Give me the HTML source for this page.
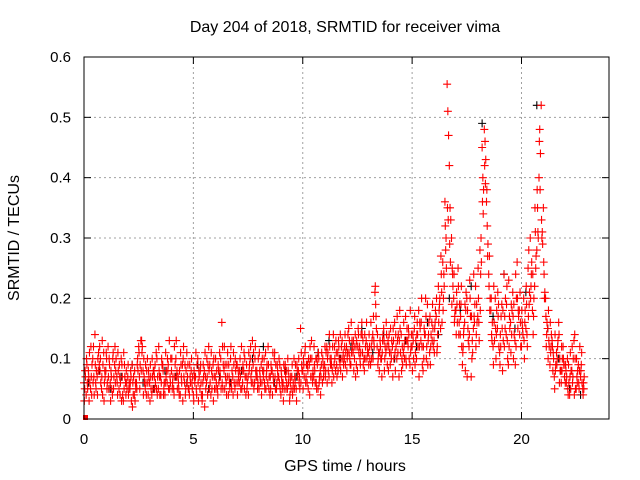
<!DOCTYPE html>
<html><head><meta charset="utf-8"><style>
body{margin:0;background:#fff}
svg{display:block;font-family:"Liberation Sans",sans-serif}
</style></head><body>
<svg id="chart" width="640" height="480">
<rect width="640" height="480" fill="#fff"/>
<text x="345" y="32" font-size="16" text-anchor="middle">Day 204 of 2018, SRMTID for receiver vima</text>
<text x="345" y="471" font-size="16" text-anchor="middle">GPS time / hours</text>
<text transform="translate(19,238) rotate(-90)" font-size="16" text-anchor="middle">SRMTID / TECUs</text>
<g id="grid"></g><g id="ticks"></g><g id="marks"></g>
<rect x="84" y="57" width="525" height="362" fill="none" stroke="#000" stroke-width="1"/>
</svg>
<script>
const xTicks=[0,5,10,15,20];
const yTicks=[0,0.1,0.2,0.3,0.4,0.5,0.6];
const yTickLabels=["0","0.1","0.2","0.3","0.4","0.5","0.6"];
const redStep=0.1;
const redA=[0.06,0.04,0.08,0.05,0.10,0.14,0.07,0.09,0.05,0.11,
0.08,0.12,0.06,0.04,0.09,0.07,0.05,0.10,0.03,0.06,
0.07,0.05,0.09,0.04,0.06,0.12,0.13,0.08,0.05,0.10,
0.06,0.04,0.08,0.11,0.05,0.07,0.09,0.04,0.06,0.13,
0.08,0.05,0.10,0.07,0.04,0.09,0.06,0.11,0.05,0.08,
0.04,0.07,0.10,0.05,0.03,0.08,0.06,0.12,0.04,0.09,
0.07,0.05,0.11,0.16,0.08,0.06,0.04,0.10,0.07,0.05,
0.09,0.06,0.12,0.08,0.04,0.07,0.10,0.13,0.06,0.08,
0.05,0.09,0.07,0.11,0.06,0.04,0.08,0.10,0.05,0.07,
0.04,0.06,0.09,0.05,0.03,0.07,0.10,0.05,0.08,0.15,
0.08,0.11,0.06,0.09,0.13,0.07,0.10,0.05,0.08,0.06,
0.09,0.12,0.07,0.10,0.14,0.08,0.11,0.09,0.13,0.10,
0.12,0.15,0.09,0.11,0.14,0.08,0.12,0.16,0.10,0.13,
0.11,0.09,0.14,0.21,0.12,0.08,0.10,0.15,0.11,0.13,
0.09,0.12,0.16,0.10,0.07,0.14,0.11,0.17,0.13,0.09,
0.12,0.15,0.10,0.18,0.13,0.08,0.14,0.19,0.11,0.16,
0.13,0.17,0.22,0.15,0.26,0.36,0.555,0.42,0.30,0.20,
0.18,0.25,0.14,0.09,0.16,0.20,0.12,0.07,0.15,0.22,
0.17,0.28,0.45,0.48,0.36,0.24,0.18,0.12,0.20,0.15,
0.11,0.19,0.24,0.14,0.09,0.16,0.21,0.13,0.26,0.18,
0.12,0.20,0.15,0.25,0.30,0.18,0.22,0.28,0.40,0.52,
0.35,0.20,0.15,0.09,0.13,0.07,0.11,0.16,0.08,0.12,
0.06,0.10,0.04,0.08,0.13,0.05,0.09,0.07,0.05];
const redB=[0.05,0.09,0.03,0.07,0.12,0.06,0.10,0.08,0.13,0.06,
0.10,0.05,0.08,0.11,0.06,0.04,0.07,0.09,0.05,0.08,
0.04,0.08,0.06,0.03,0.09,0.07,0.13,0.10,0.06,0.04,
0.09,0.07,0.05,0.10,0.08,0.06,0.04,0.11,0.08,0.07,
0.05,0.12,0.07,0.05,0.09,0.10,0.04,0.07,0.09,0.06,
0.08,0.05,0.03,0.09,0.06,0.11,0.07,0.05,0.08,0.10,
0.05,0.09,0.07,0.12,0.05,0.09,0.07,0.06,0.11,0.08,
0.06,0.10,0.08,0.05,0.09,0.11,0.07,0.09,0.12,0.05,
0.08,0.06,0.10,0.07,0.09,0.05,0.11,0.07,0.09,0.06,
0.07,0.09,0.05,0.08,0.06,0.04,0.07,0.09,0.06,0.11,
0.10,0.06,0.08,0.12,0.07,0.09,0.05,0.10,0.07,0.09,
0.07,0.10,0.12,0.06,0.09,0.11,0.13,0.08,0.10,0.14,
0.10,0.13,0.11,0.08,0.12,0.15,0.09,0.11,0.14,0.10,
0.14,0.12,0.17,0.19,0.09,0.13,0.11,0.08,0.14,0.12,
0.11,0.15,0.08,0.13,0.18,0.10,0.12,0.09,0.15,0.11,
0.14,0.09,0.16,0.12,0.20,0.10,0.17,0.13,0.09,0.19,
0.15,0.11,0.18,0.24,0.20,0.28,0.51,0.35,0.25,0.16,
0.21,0.14,0.19,0.12,0.08,0.18,0.23,0.10,0.17,0.14,
0.20,0.24,0.40,0.46,0.32,0.27,0.14,0.22,0.10,0.17,
0.14,0.08,0.17,0.22,0.12,0.19,0.10,0.24,0.15,0.21,
0.16,0.10,0.19,0.28,0.22,0.14,0.31,0.35,0.48,0.30,
0.24,0.12,0.18,0.11,0.08,0.14,0.10,0.06,0.12,0.09,
0.08,0.04,0.11,0.06,0.14,0.07,0.05,0.09,0.06];
const redC=[0.07,0.05,0.06,0.09,0.04,0.08,0.11,0.06,0.09,0.07,
0.06,0.09,0.05,0.07,0.10,0.08,0.06,0.04,0.07,0.05,
0.06,0.03,0.07,0.05,0.08,0.09,0.12,0.06,0.08,0.07,
0.05,0.08,0.06,0.07,0.04,0.09,0.06,0.08,0.05,0.10,
0.07,0.09,0.05,0.08,0.06,0.07,0.08,0.05,0.06,0.07,
0.06,0.09,0.07,0.04,0.07,0.05,0.09,0.06,0.07,0.05,
0.08,0.06,0.05,0.09,0.07,0.11,0.05,0.08,0.06,0.09,
0.07,0.05,0.09,0.07,0.06,0.09,0.08,0.05,0.07,0.10,
0.06,0.08,0.05,0.09,0.07,0.08,0.06,0.09,0.07,0.05,
0.05,0.08,0.06,0.07,0.05,0.06,0.09,0.07,0.05,0.08,
0.07,0.09,0.10,0.07,0.08,0.06,0.09,0.07,0.11,0.08,
0.11,0.08,0.09,0.12,0.10,0.07,0.10,0.12,0.09,0.11,
0.14,0.09,0.12,0.10,0.13,0.11,0.14,0.09,0.12,0.11,
0.10,0.13,0.12,0.15,0.11,0.10,0.14,0.12,0.09,0.11,
0.13,0.10,0.12,0.14,0.11,0.09,0.13,0.15,0.10,0.14,
0.10,0.13,0.12,0.15,0.09,0.14,0.12,0.16,0.14,0.12,
0.18,0.14,0.20,0.16,0.22,0.25,0.47,0.33,0.22,0.18,
0.16,0.19,0.12,0.15,0.21,0.13,0.17,0.11,0.19,0.16,
0.13,0.26,0.38,0.43,0.29,0.20,0.16,0.13,0.18,0.12,
0.17,0.13,0.20,0.10,0.15,0.18,0.14,0.20,0.17,0.12,
0.14,0.18,0.12,0.21,0.26,0.20,0.27,0.30,0.44,0.29,
0.21,0.16,0.12,0.14,0.10,0.09,0.13,0.08,0.10,0.07,
0.07,0.06,0.08,0.10,0.05,0.08,0.12,0.06,0.07];
const redD=[0.03,0.10,0.07,0.12,0.06,0.09,0.04,0.12,0.07,0.03,
0.11,0.07,0.03,0.10,0.12,0.06,0.09,0.03,0.11,0.04,
0.09,0.06,0.02,0.08,0.05,0.11,0.08,0.04,0.09,0.06,
0.03,0.10,0.07,0.05,0.12,0.04,0.08,0.06,0.10,0.05,
0.10,0.04,0.13,0.06,0.11,0.03,0.09,0.06,0.04,0.10,
0.03,0.11,0.06,0.08,0.04,0.02,0.10,0.08,0.11,0.03,
0.10,0.04,0.08,0.06,0.12,0.04,0.09,0.12,0.04,0.10,
0.04,0.08,0.05,0.11,0.07,0.04,0.12,0.06,0.10,0.07,
0.11,0.04,0.08,0.05,0.12,0.07,0.04,0.11,0.06,0.10,
0.08,0.03,0.07,0.10,0.04,0.09,0.05,0.03,0.10,0.06,
0.05,0.12,0.09,0.04,0.10,0.12,0.06,0.11,0.04,0.10,
0.12,0.06,0.14,0.09,0.07,0.13,0.08,0.14,0.07,0.12,
0.08,0.11,0.16,0.13,0.07,0.12,0.10,0.14,0.08,0.16,
0.09,0.16,0.10,0.22,0.14,0.11,0.07,0.13,0.16,0.08,
0.15,0.07,0.11,0.17,0.13,0.08,0.16,0.10,0.12,0.18,
0.08,0.17,0.14,0.07,0.16,0.12,0.20,0.09,0.17,0.13,
0.11,0.20,0.16,0.27,0.18,0.32,0.35,0.29,0.19,0.24,
0.14,0.22,0.17,0.11,0.19,0.07,0.14,0.17,0.24,0.12,
0.25,0.18,0.36,0.42,0.38,0.22,0.20,0.09,0.15,0.21,
0.09,0.15,0.12,0.19,0.23,0.11,0.17,0.09,0.20,0.14,
0.18,0.13,0.22,0.17,0.20,0.24,0.35,0.38,0.46,0.33,
0.26,0.17,0.10,0.16,0.12,0.05,0.09,0.14,0.06,0.10,
0.09,0.05,0.07,0.12,0.04,0.10,0.06,0.08,0.04];
const redE=[0.08,0.06,0.11,0.04,0.07,0.05,0.08,0.10,0.04,0.08,
0.05,0.10,0.07,0.05,0.08,0.11,0.04,0.07,0.09,0.06,
0.05,0.07,0.04,0.06,0.10,0.05,0.11,0.07,0.04,0.08,
0.07,0.05,0.09,0.04,0.07,0.10,0.05,0.07,0.09,0.06,
0.06,0.07,0.08,0.04,0.07,0.12,0.05,0.09,0.07,0.05,
0.07,0.04,0.08,0.06,0.09,0.07,0.04,0.09,0.05,0.07,
0.06,0.08,0.10,0.05,0.09,0.07,0.06,0.05,0.09,0.06,
0.08,0.07,0.06,0.10,0.05,0.08,0.06,0.11,0.08,0.06,
0.07,0.10,0.06,0.08,0.05,0.09,0.07,0.05,0.08,0.09,
0.06,0.05,0.08,0.06,0.07,0.05,0.06,0.08,0.07,0.09,
0.09,0.07,0.05,0.10,0.06,0.08,0.10,0.06,0.09,0.07,
0.08,0.11,0.10,0.08,0.12,0.09,0.12,0.10,0.11,0.09,
0.11,0.10,0.13,0.12,0.09,0.14,0.11,0.13,0.10,0.12,
0.12,0.10,0.13,0.17,0.10,0.12,0.13,0.10,0.12,0.14,
0.10,0.13,0.14,0.11,0.15,0.12,0.10,0.13,0.14,0.12,
0.13,0.11,0.14,0.16,0.12,0.15,0.10,0.14,0.12,0.15,
0.16,0.12,0.19,0.21,0.24,0.30,0.33,0.26,0.24,0.17,
0.19,0.16,0.22,0.14,0.18,0.15,0.20,0.13,0.16,0.19,
0.16,0.30,0.34,0.39,0.27,0.18,0.13,0.16,0.14,0.19,
0.12,0.18,0.15,0.13,0.17,0.14,0.19,0.12,0.18,0.16,
0.15,0.16,0.14,0.19,0.24,0.17,0.25,0.31,0.38,0.31,
0.20,0.14,0.13,0.12,0.11,0.08,0.12,0.10,0.08,0.09,
0.06,0.09,0.05,0.07,0.10,0.06,0.08,0.11,0.05];
const blackStart=0.2, blackStep=0.5;
const black=[0.06,0.08,0.05,0.07,0.09,0.06,0.05,0.08,0.07,0.06,
0.09,0.05,0.07,0.06,0.08,0.10,0.12,0.06,0.08,0.07,
0.09,0.11,0.13,0.10,0.12,0.15,0.11,0.14,0.10,0.13,
0.12,0.16,0.14,0.20,0.18,0.22,0.49,0.17,0.24,0.15,
0.21,0.52,0.15,0.10,0.05,0.04];

const X0=84,X1=609,Y0=419,Y1=57;
const xs=v=>X0+(v/24)*(X1-X0);
const ys=v=>Y0-(v/0.6)*(Y0-Y1);
const NS="http://www.w3.org/2000/svg";
function mk(tag,attrs,parent){const e=document.createElementNS(NS,tag);for(const k in attrs)e.setAttribute(k,attrs[k]);parent.appendChild(e);return e;}
const grid=document.getElementById('grid'),ticks=document.getElementById('ticks'),marks=document.getElementById('marks');
xTicks.forEach(t=>{
 const x=xs(t);
 if(t>0){const g=mk('line',{x1:x,x2:x,y1:Y0,y2:Y1,stroke:'#a0a0a0','stroke-dasharray':'2,3'},grid);
 
 }
 mk('line',{x1:x,x2:x,y1:Y0,y2:Y0-7,stroke:'#000'},ticks);
 mk('line',{x1:x,x2:x,y1:Y1,y2:Y1+7,stroke:'#000'},ticks);
 const l=mk('text',{x:x,y:Y0+25,'font-size':15,'text-anchor':'middle'},ticks);l.textContent=t;
 
 
});
yTicks.forEach((t,i)=>{
 const y=ys(t);
 if(t>0&&t<0.6){const g=mk('line',{x1:X0,x2:X1,y1:y,y2:y,stroke:'#a0a0a0','stroke-dasharray':'2,3'},grid);
 
 }
 mk('line',{x1:X0,x2:X0+7,y1:y,y2:y,stroke:'#000'},ticks);
 mk('line',{x1:X1,x2:X1-7,y1:y,y2:y,stroke:'#000'},ticks);
 const l=mk('text',{x:X0-13,y:y+5,'font-size':15,'text-anchor':'end'},ticks);l.textContent=yTickLabels[i];
 
 
});
function cross(t,v,color,name){
 const x=xs(t),y=ys(v);
 const p=mk('path',{d:`M${x-4},${y}h8M${x},${y-4}v8`,stroke:color,'stroke-width':1.1,fill:'none'},marks);
 
 
}
black.forEach((v,i)=>cross(blackStart+i*blackStep,v,'#000','black-point'));
redA.forEach((v,i)=>cross(i*redStep,v,'#f00','red-point'));
redD.forEach((v,i)=>cross(0.016+i*redStep,v,'#f00','red-point'));
redB.forEach((v,i)=>cross(0.033+i*redStep,v,'#f00','red-point'));
redE.forEach((v,i)=>cross(0.05+i*redStep,v,'#f00','red-point'));
redC.forEach((v,i)=>cross(0.066+i*redStep,v,'#f00','red-point'));
const sq=mk('rect',{x:X0-1,y:Y0-4,width:5,height:5,fill:'#f00'},marks);


</script>
</body></html>
